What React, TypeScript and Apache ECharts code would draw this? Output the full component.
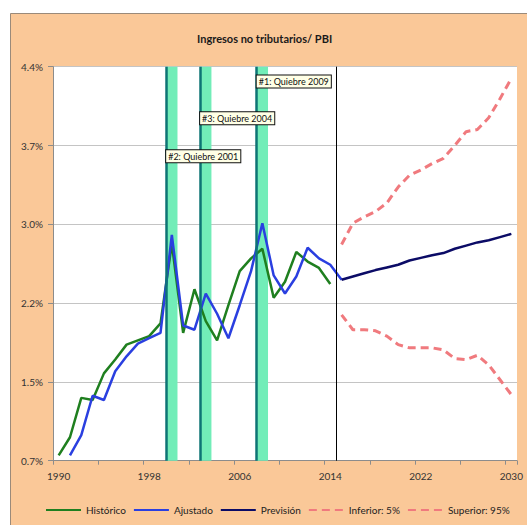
import React, { useEffect, useRef } from "react";
import * as echarts from "echarts";

const years = [
  "1990", "1991", "1992", "1993", "1994", "1995", "1996", "1997", "1998", "1999",
  "2000", "2001", "2002", "2003", "2004", "2005", "2006", "2007", "2008", "2009",
  "2010", "2011", "2012", "2013", "2014", "2015", "2016", "2017", "2018", "2019",
  "2020", "2021", "2022", "2023", "2024", "2025", "2026", "2027", "2028", "2029",
  "2030",
];

// Histórico 1990–2014 (% of GDP)
const historico = [
  0.79, 0.96, 1.33, 1.31, 1.56, 1.69, 1.83, 1.87, 1.91, 2.03,
  2.78, 1.94, 2.35, 2.05, 1.87, 2.2, 2.52, 2.64, 2.73, 2.27,
  2.42, 2.7, 2.61, 2.55, 2.4,
];
// Ajustado 1991–2015
const ajustado = [
  0.79, 0.98, 1.35, 1.31, 1.58, 1.72, 1.84, 1.89, 1.94, 2.86,
  2.01, 1.97, 2.31, 2.12, 1.89, 2.2, 2.52, 2.97, 2.48, 2.31,
  2.47, 2.74, 2.64, 2.58, 2.44,
];
// Previsión 2015–2030
const prevision = [
  2.44, 2.47, 2.5, 2.53, 2.555, 2.58, 2.62, 2.645, 2.67, 2.69,
  2.73, 2.76, 2.79, 2.81, 2.84, 2.87,
];
// Inferior 5% 2015–2030
const inferior = [
  2.11, 1.97, 1.97, 1.96, 1.91, 1.83, 1.8, 1.8, 1.8, 1.78,
  1.7, 1.69, 1.73, 1.64, 1.5, 1.36,
];
// Superior 95% 2015–2030
const superior = [
  2.77, 2.97, 3.03, 3.08, 3.16, 3.31, 3.42, 3.47, 3.53, 3.58,
  3.7, 3.83, 3.85, 3.96, 4.14, 4.33,
];

const yTicks = { min: 0.74, max: 4.44, interval: 0.74 };

const breakYears = ["2008", "2000", "2003"];
const breakLabels = ["#1: Quiebre 2009", "#2: Quiebre 2001", "#3: Quiebre 2004"];
const breakLabelLevels = [4.3, 3.6, 3.955];
const forecastStart = "2015";

const seriesNames = ["Histórico", "Ajustado", "Previsión", "Inferior: 5%", "Superior: 95%"];

const pad = (startYear: string, arr: number[]) => {
  const s = years.indexOf(startYear);
  return years.map((_, i) => {
    const k = i - s;
    return k >= 0 && k < arr.length ? arr[k] : null;
  });
};

export default function App() {
  const ref = useRef<HTMLDivElement>(null);

  useEffect(() => {
    if (!ref.current) return;
    const chart = echarts.init(ref.current, null, { renderer: "svg" });
    const font = 'Lato, "Open Sans", sans-serif';
    const idx = (y: string) => years.indexOf(y);

    const bandColor = "#72EDB8";
    const breakLineColor = "#0E7474";
    const dashColor = "#F07A7E";

    chart.setOption({
      animation: false,
      backgroundColor: "#ffffff",
      textStyle: { fontFamily: font },
      graphic: [
        {
          type: "rect",
          z: -100,
          silent: true,
          shape: { x: 10.5, y: 13.5, width: 540, height: 540 },
          style: { fill: "#FAC898", stroke: "#9A8A7A", lineWidth: 1 },
        },
      ],
      title: {
        text: "Ingresos no tributarios/ PBI",
        left: 192,
        top: 28,
        textStyle: { fontFamily: font, fontSize: 11, fontWeight: "bold", color: "#1a1a1a" },
      },
      legend: {
        left: 40,
        top: 500,
        itemWidth: 35,
        itemHeight: 10,
        itemGap: 7,
        data: seriesNames,
        itemStyle: { opacity: 0 },
        textStyle: { fontFamily: font, fontSize: 10, color: "#222" },
      },
      grid: {
        left: 53,
        right: 10,
        top: 66.7,
        bottom: 64.3,
        show: true,
        backgroundColor: "#ffffff",
        borderWidth: 0,
      },
      xAxis: [
        {
          type: "category",
          data: years,
          boundaryGap: true,
          axisLine: { show: true, lineStyle: { color: "#8c8c8c", width: 1 } },
          axisTick: { show: true, interval: 3, length: 4, lineStyle: { color: "#8c8c8c" } },
          axisLabel: { interval: 7, fontSize: 10, color: "#333", margin: 10, fontFamily: font },
          splitLine: { show: false },
        },
        {
          type: "value",
          min: 0,
          max: years.length,
          show: false,
        },
      ],
      yAxis: {
        type: "value",
        min: yTicks.min,
        max: yTicks.max,
        interval: yTicks.interval,
        axisLine: { show: true, lineStyle: { color: "#8c8c8c" } },
        axisTick: { show: true, length: 5, lineStyle: { color: "#8c8c8c" } },
        axisLabel: {
          fontSize: 10,
          color: "#333",
          margin: 10,
          fontFamily: font,
          formatter: (v: number) => v.toFixed(1) + "%",
        },
        splitLine: { show: true, lineStyle: { color: "#c4c4c4", width: 1 } },
      },
      series: [
        {
          name: "_breaks",
          type: "line",
          xAxisIndex: 1,
          yAxisIndex: 0,
          data: [],
          silent: true,
          z: 1,
          markArea: {
            silent: true,
            itemStyle: { color: bandColor, opacity: 1 },
            data: breakYears.map((y) => [{ xAxis: idx(y) }, { xAxis: idx(y) + 1 }]),
          },
          markLine: {
            silent: true,
            symbol: "none",
            label: { show: false },
            lineStyle: { type: "solid" },
            data: [
              ...breakYears.map((y) => ({
                xAxis: idx(y),
                lineStyle: { color: breakLineColor, width: 2.5, type: "solid" },
              })),
              {
                xAxis: idx(forecastStart),
                lineStyle: { color: "#000", width: 1, type: "solid" },
              },
            ],
          },
          markPoint: {
            silent: true,
            symbol: "circle",
            symbolSize: 0,
            data: breakYears.map((y, i) => ({
              coord: [idx(y), breakLabelLevels[i]],
              label: {
                show: true,
                position: "right",
                distance: 0,
                formatter: breakLabels[i],
                fontFamily: font,
                fontSize: 9,
                color: "#111",
                backgroundColor: "#FFFFE6",
                borderColor: "#111",
                borderWidth: 1,
                padding: [2, 2, 1, 2],
              },
            })),
          },
        },
        {
          name: seriesNames[0],
          type: "line",
          data: pad("1990", historico),
          showSymbol: false,
          symbol: "none",
          z: 3,
          lineStyle: { color: "#1F7F1F", width: 2.5 },
          itemStyle: { color: "#1F7F1F" },
        },
        {
          name: seriesNames[1],
          type: "line",
          data: pad("1991", ajustado),
          showSymbol: false,
          symbol: "none",
          z: 4,
          lineStyle: { color: "#2A3FE0", width: 2.5 },
          itemStyle: { color: "#2A3FE0" },
        },
        {
          name: seriesNames[2],
          type: "line",
          data: pad(forecastStart, prevision),
          showSymbol: false,
          symbol: "none",
          z: 4,
          lineStyle: { color: "#0B0B66", width: 2.5 },
          itemStyle: { color: "#0B0B66" },
        },
        {
          name: seriesNames[3],
          type: "line",
          data: pad(forecastStart, inferior),
          showSymbol: false,
          symbol: "none",
          z: 4,
          lineStyle: { color: dashColor, width: 3, type: [8, 5] },
          itemStyle: { color: dashColor },
        },
        {
          name: seriesNames[4],
          type: "line",
          data: pad(forecastStart, superior),
          showSymbol: false,
          symbol: "none",
          z: 4,
          lineStyle: { color: dashColor, width: 3, type: [8, 5] },
          itemStyle: { color: dashColor },
        },
      ],
    });

    return () => chart.dispose();
  }, []);

  return (
    <div
      ref={ref}
      style={{ position: "absolute", left: 0, top: 0, width: 527, height: 525 }}
    />
  );
}
